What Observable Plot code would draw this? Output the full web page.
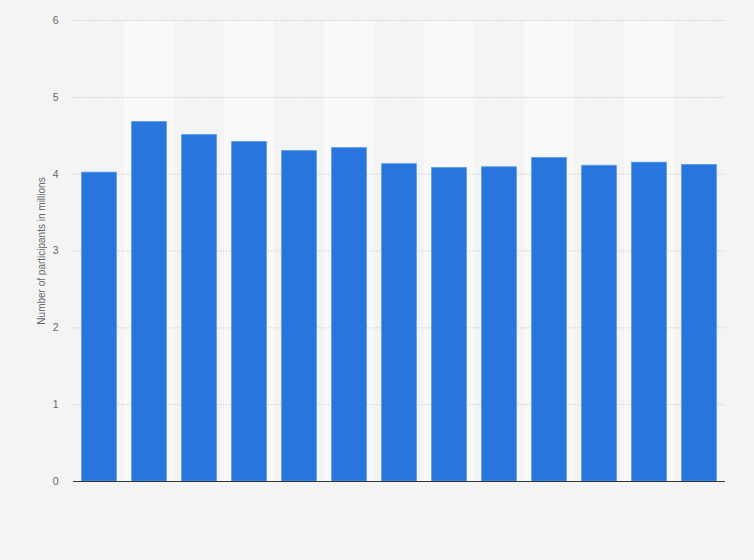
<!DOCTYPE html>
<html>
<head>
<meta charset="utf-8">
<script src="https://cdn.jsdelivr.net/npm/d3@7"></script>
<script src="https://cdn.jsdelivr.net/npm/@observablehq/plot@0.6"></script>
<style>
  html, body { margin: 0; padding: 0; background: #f4f4f4; }
  #chart svg { display: block; }
</style>
</head>
<body>
<div id="chart"></div>
<script>
const categories = ["2006","2007","2008","2009","2010","2011","2012","2013","2014","2015","2016","2017","2018"];
const participants = [4.02, 4.68, 4.51, 4.42, 4.30, 4.34, 4.13, 4.08, 4.09, 4.21, 4.11, 4.15, 4.12];
const yTicks = [0, 1, 2, 3, 4, 5, 6];
const yTitle = "Number of participants in millions";

const data = categories.map((c, i) => ({category: c, value: participants[i], band: i % 2 === 1}));

const chart = Plot.plot({
  width: 754,
  height: 560,
  marginLeft: 73,
  marginRight: 29,
  marginTop: 20,
  marginBottom: 79,
  style: {background: "#f4f4f4", fontFamily: "'Liberation Sans', Arial, sans-serif", fontSize: "10.5px", color: "#666"},
  x: {domain: categories, padding: 0, axis: null},
  y: {domain: [0, 6], ticks: yTicks, tickSize: 0, tickPadding: 15, tickFormat: "d", label: null},
  marks: [
    Plot.barY(data.filter(d => d.band), {x: "category", y1: 0, y2: 6, fill: "#f9f9f9"}),
    Plot.gridY(yTicks.filter(t => t > 0), {stroke: "#cfcfcf", strokeOpacity: 1, strokeDasharray: "1.5,1.5", strokeWidth: 1}),
    Plot.barY(data, {x: "category", y: "value", fill: "#2876dd", stroke: "#5c9ae9", strokeWidth: 0.8, insetLeft: 7.6, insetRight: 7.6}),
    Plot.ruleY([0], {stroke: "#333", strokeWidth: 1.2}),
    Plot.text([yTitle], {frameAnchor: "left", dx: -32, rotate: -90, textAnchor: "middle", text: d => d, fill: "#666", fontSize: 10})
  ]
});
document.getElementById("chart").appendChild(chart);
</script>
</body>
</html>
